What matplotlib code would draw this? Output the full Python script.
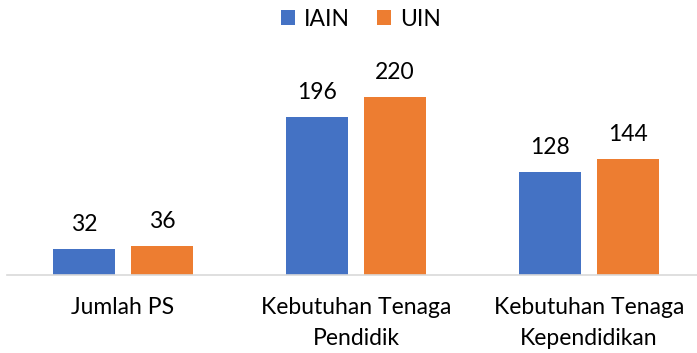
import matplotlib.pyplot as plt
import numpy as np

categories = ['Jumlah PS', 'Kebutuhan Tenaga\nPendidik', 'Kebutuhan Tenaga\nKependidikan']
iain = [32, 196, 128]
uin = [36, 220, 144]

plt.rcParams['font.family'] = ['Lato', 'DejaVu Sans']

fig = plt.figure(figsize=(6.97, 3.53), dpi=100)
# plot area runs a little past the right edge
ax = fig.add_axes([6.5 / 697, (353 - 275) / 353, 699 / 697, 202 / 353])

x = np.arange(len(categories))
w = 0.266
b1 = ax.bar(x - 0.167, iain, w, color='#4472C4', label='IAIN')
b2 = ax.bar(x + 0.167, uin, w, color='#ED7D31', label='UIN')
ax.bar_label(b1, padding=10, fontsize=16.5)
ax.bar_label(b2, padding=10, fontsize=16.5)

ax.set_xlim(-0.5, 2.5)
ax.set_ylim(0, 250)
ax.set_xticks(x)
ax.set_xticklabels(categories, fontsize=16.5, linespacing=1.6)
ax.tick_params(axis='x', length=0, pad=16)
ax.set_yticks([])
for s in ['top', 'right', 'left']:
    ax.spines[s].set_visible(False)
ax.spines['bottom'].set_color('#D9D9D9')
ax.spines['bottom'].set_linewidth(1.2)

fig.legend(loc='center', bbox_to_anchor=(361 / 697, 1 - 19 / 353), ncol=2,
           frameon=False, fontsize=16.5, handlelength=0.6, handleheight=0.6,
           handletextpad=0.4, columnspacing=1.2)

fig.savefig('out.png', dpi=100)
